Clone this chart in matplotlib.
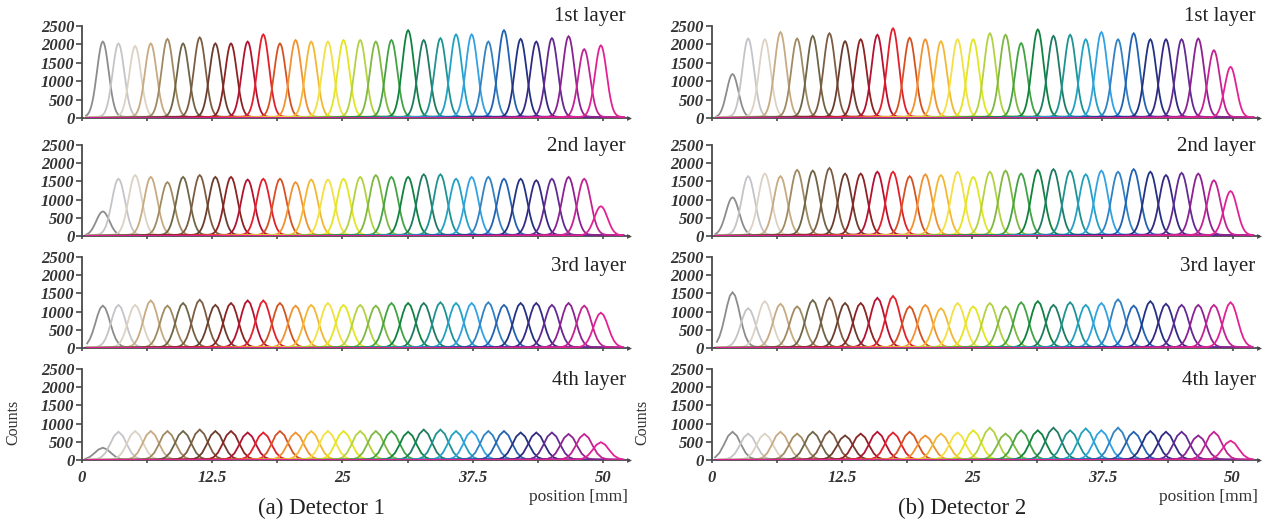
import numpy as np
import matplotlib

matplotlib.use("Agg")
import matplotlib.pyplot as plt
from matplotlib.ticker import MultipleLocator

# crystal peak positions [mm] (same for both detectors)
CENTERS = [2.0, 3.5, 5.1, 6.6, 8.2, 9.7, 11.3, 12.8, 14.3, 15.9, 17.4, 19.0,
           20.5, 22.0, 23.6, 25.1, 26.7, 28.2, 29.7, 31.3, 32.8, 34.4, 35.9, 37.4,
           39.0, 40.5, 42.1, 43.6, 45.1, 46.7, 48.2, 49.8]

COLORS = ["#8c8c8c", "#c4c4c8", "#dcd2c4", "#c8aa82", "#a08a62", "#6e6446",
          "#7c5c42", "#6a3c2e", "#8c2222", "#b41232", "#e2202c", "#d45222",
          "#f09232", "#f2b834", "#f2e044", "#e2e622", "#b2d242", "#80b842",
          "#42a244", "#108240", "#207a62", "#1f9292", "#22a2c2", "#32a2e2",
          "#3282c2", "#2262b2", "#223282", "#342a84", "#622a92", "#8c2292",
          "#c22292", "#e22294"]

# peak heights [counts], detector 1
DET1_L1 = [2030, 1980, 1910, 1980, 2100, 1980, 2140, 1980, 1980, 2030, 2220, 1980,
           2070, 2030, 2030, 2070, 2070, 2030, 2070, 2330, 2070, 2120, 2220, 2220,
           2030, 2330, 2100, 2030, 2120, 2170, 1830, 1930]
DET1_L2 = [660, 1540, 1640, 1590, 1450, 1590, 1640, 1590, 1590, 1520, 1540, 1540,
           1450, 1520, 1520, 1540, 1590, 1640, 1590, 1590, 1660, 1660, 1540, 1590,
           1590, 1540, 1540, 1500, 1540, 1590, 1540, 800]
DET1_L3 = [1140, 1160, 1160, 1280, 1140, 1210, 1300, 1160, 1210, 1280, 1280, 1210,
           1140, 1160, 1210, 1160, 1160, 1140, 1210, 1210, 1210, 1230, 1210, 1210,
           1230, 1160, 1210, 1210, 1160, 1210, 1140, 950]
DET1_L4 = [330, 760, 780, 780, 780, 780, 820, 780, 780, 740, 740, 780,
           740, 780, 780, 780, 780, 780, 780, 760, 820, 820, 780, 780,
           780, 780, 740, 740, 740, 700, 700, 480]

# peak heights [counts], detector 2
DET2_L1 = [1170, 2110, 2090, 2280, 2110, 2180, 2250, 2040, 2090, 2210, 2380, 2130,
           2090, 2040, 2090, 2090, 2250, 2210, 1990, 2350, 2180, 2210, 2090, 2280,
           2090, 2250, 2090, 2090, 2090, 2110, 1800, 1360]
DET2_L2 = [1040, 1610, 1680, 1610, 1780, 1760, 1830, 1680, 1680, 1730, 1730, 1610,
           1660, 1640, 1730, 1590, 1730, 1760, 1680, 1780, 1800, 1760, 1660, 1760,
           1730, 1800, 1730, 1640, 1700, 1680, 1500, 1210]
DET2_L3 = [1500, 1070, 1260, 1190, 1120, 1290, 1350, 1210, 1210, 1350, 1400, 1120,
           1160, 1070, 1210, 1120, 1210, 1120, 1230, 1260, 1160, 1230, 1160, 1210,
           1310, 1140, 1260, 1190, 1160, 1160, 1160, 1230]
DET2_L4 = [760, 710, 710, 760, 710, 760, 780, 660, 710, 760, 740, 760,
           660, 710, 740, 800, 870, 710, 800, 800, 870, 800, 850, 800,
           870, 760, 780, 760, 760, 660, 760, 520]

DETECTORS = [[DET1_L1, DET1_L2, DET1_L3, DET1_L4],
             [DET2_L1, DET2_L2, DET2_L3, DET2_L4]]
LAYER_NAMES = ["1st layer", "2nd layer", "3rd layer", "4th layer"]
PANEL_TITLES = ["(a) Detector 1", "(b) Detector 2"]

# peak width and sampling per layer
SIGMA = [0.56, 0.63, 0.69, 0.74]
STEP = [0.1, 0.15, 0.25, 0.42]

W, H = 1274, 524
ZERO_PX = [118.3, 236.0, 348.0, 460.0]
TOP_PX = [25.7, 145.0, 257.0, 369.0]
LEFT_PX = [82.0, 711.7]
WIDTH_PX = 547.0
LABEL_Y_PX = [17, 147, 266, 380]
AXIS_COLOR = "#4a4a4a"
SERIF = ["Liberation Serif", "DejaVu Serif"]

plt.rcParams["font.family"] = SERIF

fig = plt.figure(figsize=(W / 100, H / 100), dpi=100)

for col, layers in enumerate(DETECTORS):
    for row, heights in enumerate(layers):
        ax = fig.add_axes([LEFT_PX[col] / W, 1 - ZERO_PX[row] / H,
                           WIDTH_PX / W, (ZERO_PX[row] - TOP_PX[row]) / H])
        sig = SIGMA[row]
        for c, a, color in zip(CENTERS, heights, COLORS):
            k = np.arange(-int(60 / STEP[row]), int(60 / STEP[row]) + 1)
            x = c + k * STEP[row]
            x = x[(x >= 0.3) & (x <= 52.0)]
            y = a * np.exp(-(x - c) ** 2 / (2 * sig ** 2))
            y += a * 0.02 * np.exp(-(x - c) ** 2 / (2 * 5.0 ** 2))
            ax.plot(x, y, color=color, lw=1.3, solid_joinstyle="miter")

        ax.set_xlim(0, 52.5)
        ax.set_ylim(0, 2500)
        for side in ["top", "right"]:
            ax.spines[side].set_visible(False)
        for side in ["left", "bottom"]:
            ax.spines[side].set_color(AXIS_COLOR)
            ax.spines[side].set_linewidth(1.3)
            ax.spines[side].set_zorder(0.5)
        ax.plot(1, 0, ">", transform=ax.transAxes, clip_on=False,
                color=AXIS_COLOR, ms=3.5, mew=0)

        ax.yaxis.set_major_locator(MultipleLocator(500))
        ax.xaxis.set_major_locator(MultipleLocator(12.5))
        ax.xaxis.set_minor_locator(MultipleLocator(6.25))
        ax.tick_params(axis="y", direction="out", length=4.5, width=1.2,
                       color=AXIS_COLOR, pad=1, labelsize=12)
        ax.tick_params(axis="x", which="both", direction="out", length=2.5,
                       width=1.2, color=AXIS_COLOR, pad=5, labelsize=12)
        for lab in ax.get_yticklabels() + ax.get_xticklabels():
            lab.set_fontweight("bold")
            lab.set_fontstyle("italic")
            lab.set_color("#333333")
        ax.xaxis.set_major_formatter(plt.FuncFormatter(lambda v, p: f"{v:g}"))
        if row < 3:
            ax.tick_params(axis="x", labelbottom=False)

        fig.text((LEFT_PX[col] + WIDTH_PX - 3) / W, 1 - LABEL_Y_PX[row] / H,
                 LAYER_NAMES[row], ha="right", va="center", fontsize=15,
                 color="#222222")

    fig.text((LEFT_PX[col] - 69) / W, 1 - 422 / H, "Counts", rotation=90,
             ha="center", va="center", fontsize=11.5, color="#333333")
    fig.text((LEFT_PX[col] + 546) / W, 1 - 497 / H, "position [mm]",
             ha="right", va="center", fontsize=12.5, color="#333333")

fig.text(321 / W, 1 - 508 / H, PANEL_TITLES[0], ha="center", va="center",
         fontsize=16.5, color="#222222")
fig.text(962 / W, 1 - 508 / H, PANEL_TITLES[1], ha="center", va="center",
         fontsize=16.5, color="#222222")

fig.savefig("out.png", dpi=100, facecolor="white")
